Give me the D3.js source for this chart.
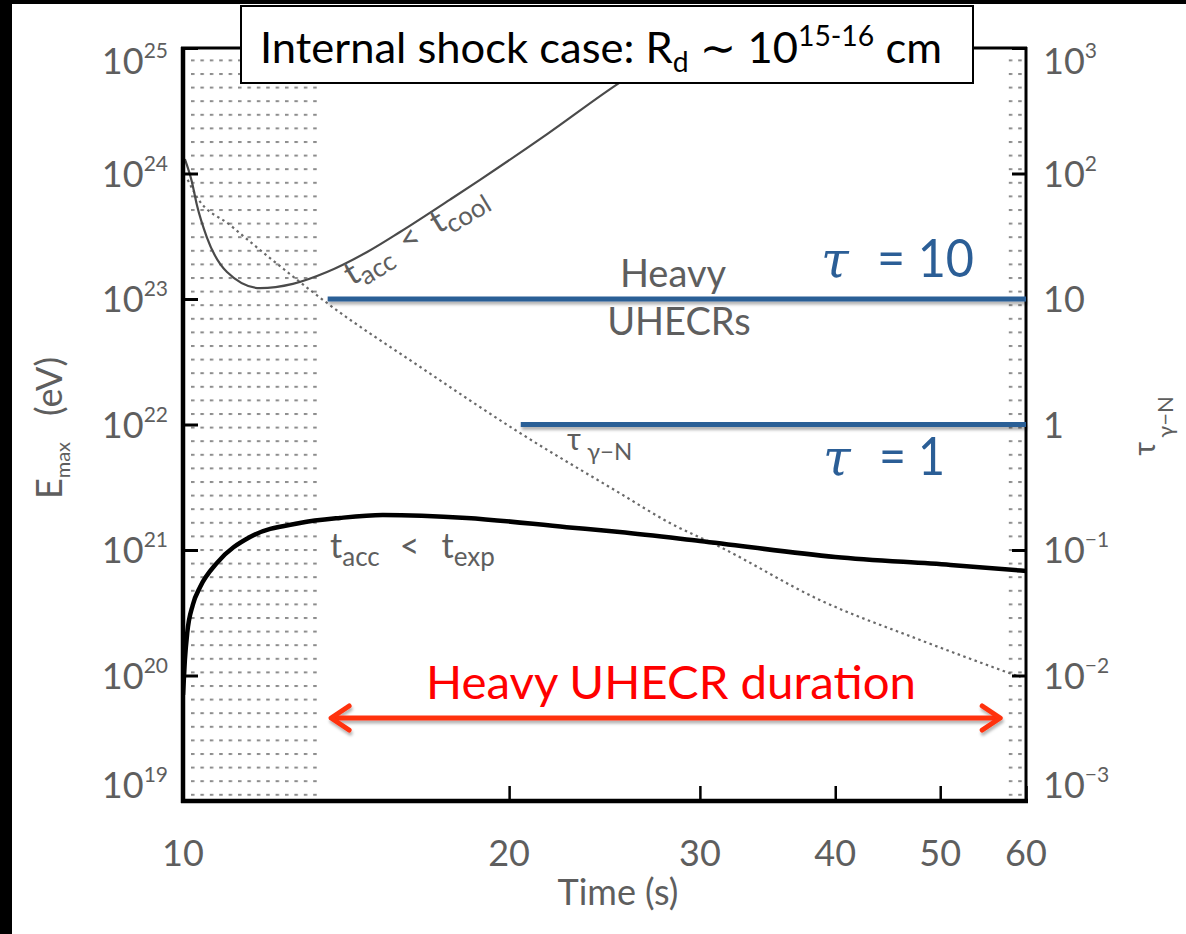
<!DOCTYPE html>
<html><head><meta charset="utf-8">
<script src="https://cdn.jsdelivr.net/npm/d3@7"></script>
<style>body{margin:0;background:#fff}svg{display:block}</style>
</head><body>
<script>
// ---------------- data ----------------
const timeTicks = [10, 20, 30, 40, 50, 60];
const energyTicks = [1e19, 1e20, 1e21, 1e22, 1e23, 1e24, 1e25];
const energyExponents = ["19", "20", "21", "22", "23", "24", "25"];
const tauTicks = [1e-3, 1e-2, 1e-1, 1, 10, 1e2, 1e3];
const tauTickLabels = [["10","−3"], ["10","−2"], ["10","−1"], ["1",""], ["10",""], ["10","2"], ["10","3"]];

// t_acc < t_cool limit (E_max, eV)
const coolTime = [10.04, 10.19, 10.30, 10.52, 10.98, 11.78, 12.63, 13.58, 14.79, 15.86, 17.64, 18.8, 21.7, 25.3, 28.8];
const coolEmax = [1.3e24, 8.6e23, 5.6e23, 3.1e23, 1.64e23, 1.22e23, 1.32e23, 1.64e23, 2.37e23, 3.42e23, 6.2e23, 8.9e23, 2.07e24, 5.3e24, 1.05e25];
// t_acc < t_exp limit (E_max, eV)
const expTime = [10.0, 10.04, 10.09, 10.21, 10.37, 10.75, 11.53, 12.82, 13.96, 15.29, 18.28, 22.6, 25.3, 30.0, 40.0, 51.1, 60];
const expEmax = [7.0e19, 1.33e20, 2.18e20, 3.65e20, 5.07e20, 7.9e20, 1.27e21, 1.64e21, 1.80e21, 1.90e21, 1.80e21, 1.52e21, 1.39e21, 1.18e21, 8.8e20, 7.6e20, 6.8e20];
// optical depth tau_{gamma-N} (right axis)
const tauTime = [10.1, 10.30, 11.05, 12.03, 13.1, 13.58, 16.56, 20.47, 25.3, 28.15, 31.3, 38.7, 47.9, 59.3];
const tauValue = [89, 65, 38.9, 21.2, 11.8, 9.3, 2.87, 0.855, 0.284, 0.164, 0.106, 0.040, 0.0192, 0.0097];

const stippleRanges = [[10, 13.4], [57, 60]];
const tauLevels = [10, 1];
const tauLevelStart = [13.6, 20.5];
const durationRange = [13.7, 56.8];

// ---------------- layout ----------------
const W = 1186, H = 934;
const M = {l: 183, r: 1026, t: 48, b: 801};
const x = d3.scaleLog().domain([10, 60]).range([M.l, M.r]);
const y = d3.scaleLog().domain([1e19, 1e25]).range([M.b, M.t]);
const yR = d3.scaleLog().domain([1e-3, 1e3]).range([M.b, M.t]);

const GRAY = "#5e5e5e";
const BLUE = "#2b5e96";
const SANS = "Lato, 'DejaVu Sans', sans-serif";

const svg = d3.select("body").append("svg").attr("width", W).attr("height", H);
const defs = svg.append("defs");
const pat = defs.append("pattern").attr("id", "stip").attr("patternUnits", "userSpaceOnUse")
  .attr("width", 9.4).attr("height", 13.6).attr("x", 3).attr("y", 5);
pat.append("rect").attr("x", 0).attr("y", 0).attr("width", 3.5).attr("height", 2).attr("fill", "#8c8c8c");
defs.append("clipPath").attr("id", "plot").append("rect")
  .attr("x", M.l).attr("y", M.t).attr("width", M.r - M.l).attr("height", M.b - M.t);
const f = defs.append("filter").attr("id", "shadow").attr("filterUnits", "userSpaceOnUse")
  .attr("x", 0).attr("y", 0).attr("width", W).attr("height", H);
f.append("feDropShadow").attr("dx", 1).attr("dy", 3).attr("stdDeviation", 1.6)
  .attr("flood-color", "#000").attr("flood-opacity", 0.3);

// black page edges
svg.append("rect").attr("x", 0).attr("y", 0).attr("width", W).attr("height", 4).attr("fill", "#000");
svg.append("rect").attr("x", 0).attr("y", 0).attr("width", 12).attr("height", H).attr("fill", "#000");

// stippled regions
svg.selectAll("rect.stip").data(stippleRanges).join("rect").attr("class", "stip")
  .attr("x", d => x(d[0]) + 5).attr("width", d => x(d[1]) - x(d[0]) - 5)
  .attr("y", M.t + 5).attr("height", M.b - M.t - 9)
  .attr("fill", "url(#stip)");

// curves
const plot = svg.append("g").attr("clip-path", "url(#plot)");
const lineE = d3.line().x(d => x(d[0])).y(d => y(d[1])).curve(d3.curveMonotoneX);
const lineT = d3.line().x(d => x(d[0])).y(d => yR(d[1])).curve(d3.curveMonotoneX);
plot.append("path").attr("d", lineT(d3.zip(tauTime, tauValue)))
  .attr("fill", "none").attr("stroke", "#6a6a6a").attr("stroke-width", 2.2).attr("stroke-dasharray", "2.5,3.5");
plot.append("path").attr("d", lineE(d3.zip(coolTime, coolEmax)))
  .attr("fill", "none").attr("stroke", "#4a4a4a").attr("stroke-width", 2.2);
plot.append("path").attr("d", lineE(d3.zip(expTime, expEmax)))
  .attr("fill", "none").attr("stroke", "#000").attr("stroke-width", 4.5);

// axes ticks
const axL = svg.append("g").attr("transform", `translate(${M.l},0)`);
axL.call(d3.axisRight(y).tickValues(y.ticks()).tickSize(8).tickFormat(""));
axL.call(d3.axisRight(y).tickValues(energyTicks).tickSize(15).tickFormat(""));
axL.selectAll(".domain").remove();
axL.selectAll("line").attr("stroke", "#000").attr("stroke-width", 3);

const axR = svg.append("g").attr("transform", `translate(${M.r},0)`);
axR.call(d3.axisLeft(yR).tickValues(tauTicks).tickSize(14).tickFormat(""));
axR.selectAll(".domain").remove();
axR.selectAll("line").attr("stroke", "#000").attr("stroke-width", 3);

const axB = svg.append("g").attr("transform", `translate(0,${M.b})`);
axB.call(d3.axisTop(x).tickValues(timeTicks).tickSize(15).tickFormat(""));
axB.selectAll(".domain").remove();
axB.selectAll("line").attr("stroke", "#000").attr("stroke-width", 2.5);

// frame
svg.append("line").attr("x1", M.l).attr("x2", M.l).attr("y1", M.t - 1).attr("y2", M.b + 2).attr("stroke", "#000").attr("stroke-width", 4.5);
svg.append("line").attr("x1", M.l - 2).attr("x2", M.r + 2).attr("y1", M.b).attr("y2", M.b).attr("stroke", "#000").attr("stroke-width", 4.5);
svg.append("line").attr("x1", M.r).attr("x2", M.r).attr("y1", M.t - 1).attr("y2", M.b + 2).attr("stroke", "#000").attr("stroke-width", 3);
svg.append("line").attr("x1", M.l - 2).attr("x2", M.r + 1).attr("y1", M.t).attr("y2", M.t).attr("stroke", "#000").attr("stroke-width", 3);

// tick labels
const clampY = v => Math.max(61, Math.min(785, v));
energyTicks.forEach((v, i) => {
  const t = svg.append("text").attr("x", 168).attr("y", clampY(y(v)) + 13)
    .attr("text-anchor", "end").attr("fill", GRAY).style("font-family", SANS);
  t.append("tspan").attr("font-size", 36).text("10");
  t.append("tspan").attr("font-size", 21).attr("dy", -16).text(energyExponents[i]);
});
tauTicks.forEach((v, i) => {
  const t = svg.append("text").attr("x", 1043).attr("y", clampY(yR(v)) + 13)
    .attr("text-anchor", "start").attr("fill", GRAY).style("font-family", SANS);
  t.append("tspan").attr("font-size", 36).text(tauTickLabels[i][0]);
  if (tauTickLabels[i][1]) t.append("tspan").attr("font-size", 21).attr("dy", -16).text(tauTickLabels[i][1]);
});
svg.selectAll("text.xt").data(timeTicks).join("text").attr("class", "xt")
  .attr("x", d => x(d)).attr("y", 866).attr("text-anchor", "middle")
  .attr("fill", GRAY).attr("font-size", 36).style("font-family", SANS).text(d => d);

// axis titles
svg.append("text").attr("x", 618).attr("y", 905).attr("text-anchor", "middle")
  .attr("fill", GRAY).attr("font-size", 36).style("font-family", SANS).text("Time (s)");
{
  const t = svg.append("text").attr("transform", "translate(62,428) rotate(-90)")
    .attr("text-anchor", "middle").attr("fill", GRAY).style("font-family", SANS);
  t.append("tspan").attr("font-size", 36).text("E");
  t.append("tspan").attr("font-size", 20).attr("dy", 8).text("max");
  t.append("tspan").attr("font-size", 36).attr("dy", -8).attr("dx", 26).text("(eV)");
}
{
  const t = svg.append("text").attr("transform", "translate(1155,426) rotate(-90)")
    .attr("text-anchor", "middle").attr("fill", GRAY).style("font-family", SANS);
  t.append("tspan").attr("font-size", 30).text("τ");
  t.append("tspan").attr("font-size", 22).attr("dy", 18).attr("dx", 4).text("γ−N");
}

// in-plot gray annotations
function multi(g, parts) {
  const t = g.append("text").attr("fill", GRAY).style("font-family", SANS);
  parts.forEach(p => t.append("tspan").attr("font-size", p[1]).attr("dy", p[2]).attr("dx", p[3]).text(p[0]));
  return t;
}
svg.append("text").attr("x", 673).attr("y", 287).attr("text-anchor", "middle").attr("fill", GRAY)
  .attr("font-size", 38).style("font-family", SANS).text("Heavy");
svg.append("text").attr("x", 679).attr("y", 335).attr("text-anchor", "middle").attr("fill", GRAY)
  .attr("font-size", 38).style("font-family", SANS).text("UHECRs");
multi(svg.append("g").attr("transform", "translate(330,558)"),
  [["t", 34, 0, 0], ["acc", 26, 8, 0], ["<", 34, -8, 20], ["t", 34, 0, 22], ["exp", 26, 8, 0]]);
multi(svg.append("g").attr("transform", "translate(352,286) rotate(-31)"),
  [["t", 34, 0, 0], ["acc", 26, 7, 0], ["<", 34, -7, 14], ["t", 34, 0, 17], ["cool", 26, 7, 0]]);
multi(svg.append("g").attr("transform", "translate(567,450)"),
  [["τ", 30, 0, 0], ["γ−N", 24, 10, 6]]);

// blue optical-depth levels
svg.selectAll("line.tau").data(tauLevels).join("line").attr("class", "tau")
  .attr("x1", (d, i) => x(tauLevelStart[i])).attr("x2", x(60))
  .attr("y1", d => yR(d)).attr("y2", d => yR(d))
  .attr("stroke", BLUE).attr("stroke-width", 5).attr("filter", "url(#shadow)");
function tauLabel(xx, base, val, len) {
  svg.append("text").attr("x", xx).attr("y", base).attr("fill", BLUE).attr("font-size", 50)
    .attr("font-style", "italic").style("font-family", "'DejaVu Serif', serif").text("τ");
  svg.append("text").attr("x", xx + 56).attr("y", base).attr("fill", BLUE).attr("font-size", 52)
    .style("font-family", SANS).attr("textLength", len).attr("lengthAdjust", "spacingAndGlyphs").text("= " + val);
}
tauLabel(821, 277, "10", 97);
tauLabel(823, 475, "1", 66);

// red duration arrow
const RED = "#ff3010";
const ay = 718, ax0 = x(durationRange[0]), ax1 = x(durationRange[1]);
const ag = svg.append("g").attr("filter", "url(#shadow)").attr("stroke", RED).attr("stroke-width", 5)
  .attr("stroke-linecap", "round").attr("fill", "none");
ag.append("line").attr("x1", ax0 + 2).attr("x2", ax1 - 2).attr("y1", ay).attr("y2", ay);
ag.append("path").attr("d", `M${ax0 + 18},${ay - 12} L${ax0},${ay} L${ax0 + 18},${ay + 12}`).attr("stroke-linejoin", "round");
ag.append("path").attr("d", `M${ax1 - 18},${ay - 12} L${ax1},${ay} L${ax1 - 18},${ay + 12}`).attr("stroke-linejoin", "round");
svg.append("text").attr("x", 426).attr("y", 699).attr("fill", "#ff0000").attr("font-size", 46)
  .style("font-family", SANS).attr("textLength", 490).attr("lengthAdjust", "spacingAndGlyphs")
  .text("Heavy UHECR duration");

// title box
svg.append("rect").attr("x", 241).attr("y", 6).attr("width", 732).attr("height", 77)
  .attr("fill", "#fff").attr("stroke", "#000").attr("stroke-width", 2);
{
  const t = svg.append("text").attr("x", 260).attr("y", 63).attr("fill", "#000")
    .style("font-family", SANS).attr("textLength", 682).attr("lengthAdjust", "spacingAndGlyphs");
  t.append("tspan").attr("font-size", 43).text("Internal shock case: R");
  t.append("tspan").attr("font-size", 28).attr("dy", 9).text("d");
  t.append("tspan").attr("font-size", 43).attr("dy", -9).text(" ∼ 10");
  t.append("tspan").attr("font-size", 28).attr("dy", -17).text("15-16");
  t.append("tspan").attr("font-size", 43).attr("dy", 17).text(" cm");
}
</script>
</body></html>
